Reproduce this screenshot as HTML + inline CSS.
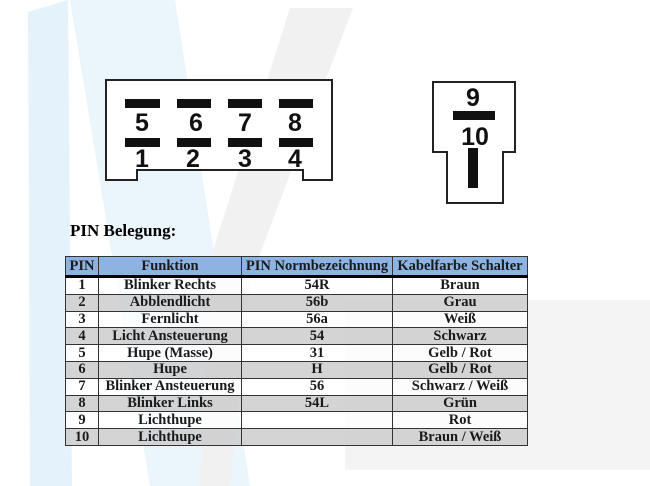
<!DOCTYPE html>
<html><head><meta charset="utf-8"><style>
html,body{margin:0;padding:0;background:#fff;}
body{width:650px;height:486px;position:relative;overflow:hidden;font-family:"Liberation Serif",serif;}
svg{position:absolute;left:0;top:0;}
table{position:absolute;left:65px;top:256px;border-collapse:collapse;font-family:"Liberation Serif",serif;font-weight:bold;font-size:14.5px;color:#1a1a1a;table-layout:fixed;}
td,th{border:1px solid #333;text-align:center;padding:0;height:15.8px;line-height:15px;white-space:nowrap;overflow:hidden;}
th{background:#8db3e2;height:18px;border-bottom:3px solid #000;}
tr.g td{background:rgba(205,205,205,0.85);}
tr.w td{background:rgba(255,255,255,0.75);}
.t{position:absolute;left:70px;top:221px;font-weight:bold;font-size:17px;}
</style></head><body>
<svg width="650" height="486">
 <polygon points="28,12 68,0 72,486 30,486" fill="#e4f2fb"/>
 <polygon points="70,0 175,0 250,486 150,486" fill="#eaf5fc"/>
 <polygon points="290,8 353,8 250,280 230,486 200,486 210,260" fill="#f1f1f1"/>
 <polygon points="345,300 650,300 650,470 345,470" fill="#f4f4f4"/>
 <g fill="#fff" stroke="#222" stroke-width="2">
  <polygon points="106,80 332,80 332,180 303,180 303,170 137,170 137,180 106,180"/>
  <polygon points="433,82 515,82 515,152 503,152 503,203 447,203 447,152 433,152"/>
 </g>
 <g fill="#111">
  <rect x="125" y="99" width="35" height="9"/><rect x="177" y="99" width="34" height="9"/>
  <rect x="228" y="99" width="34" height="9"/><rect x="279" y="99" width="34" height="9"/>
  <rect x="125" y="138" width="35" height="9"/><rect x="177" y="138" width="34" height="9"/>
  <rect x="228" y="138" width="34" height="9"/><rect x="279" y="138" width="34" height="9"/>
  <rect x="453" y="111" width="42" height="9"/><rect x="468" y="148" width="10" height="40"/>
 </g>
 <g font-family="Liberation Sans, sans-serif" font-weight="bold" font-size="25" fill="#111" text-anchor="middle">
  <text x="142" y="131">5</text><text x="196" y="131">6</text><text x="245" y="131">7</text><text x="295" y="131">8</text>
  <text x="142" y="167">1</text><text x="193" y="167">2</text><text x="245" y="167">3</text><text x="295" y="167">4</text>
  <text x="473" y="106">9</text><text x="475" y="145">10</text>
 </g>
</svg>
<div class="t">PIN Belegung:</div>
<table>
<tr><th style="width:32px">PIN</th><th style="width:142px">Funktion</th><th style="width:150px">PIN Normbezeichnung</th><th style="width:134px">Kabelfarbe Schalter</th></tr>
<tr class="w"><td>1</td><td>Blinker Rechts</td><td>54R</td><td>Braun</td></tr>
<tr class="g"><td>2</td><td>Abblendlicht</td><td>56b</td><td>Grau</td></tr>
<tr class="w"><td>3</td><td>Fernlicht</td><td>56a</td><td>Weiß</td></tr>
<tr class="g"><td>4</td><td>Licht Ansteuerung</td><td>54</td><td>Schwarz</td></tr>
<tr class="w"><td>5</td><td>Hupe (Masse)</td><td>31</td><td>Gelb / Rot</td></tr>
<tr class="g"><td>6</td><td>Hupe</td><td>H</td><td>Gelb / Rot</td></tr>
<tr class="w"><td>7</td><td>Blinker Ansteuerung</td><td>56</td><td>Schwarz / Weiß</td></tr>
<tr class="g"><td>8</td><td>Blinker Links</td><td>54L</td><td>Grün</td></tr>
<tr class="w"><td>9</td><td>Lichthupe</td><td></td><td>Rot</td></tr>
<tr class="g"><td>10</td><td>Lichthupe</td><td></td><td>Braun / Weiß</td></tr>
</table>
</body></html>
